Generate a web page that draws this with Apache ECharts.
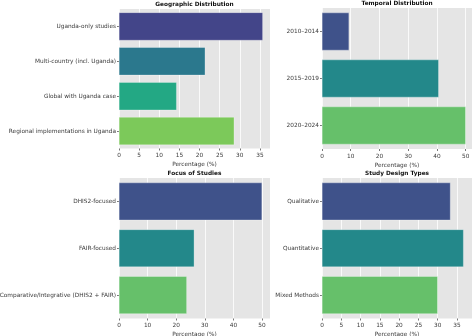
<!DOCTYPE html>
<html><head><meta charset="utf-8">
<script src="https://cdn.jsdelivr.net/npm/echarts@6/dist/echarts.min.js"></script>
<style>html,body{margin:0;padding:0;background:#fff}#c{width:474px;height:336px}</style>
</head><body><div id="c"></div>
<script>
const geoCats = ['Uganda-only studies','Multi-country (incl. Uganda)','Global with Uganda case','Regional implementations in Uganda'];
const geoVals = [35.7, 21.4, 14.3, 28.6];
const tempCats = ['2010–2014','2015–2019','2020–2024'];
const tempVals = [9.4, 40.6, 50.0];
const focusCats = ['DHIS2-focused','FAIR-focused','Comparative/Integrative (DHIS2 + FAIR)'];
const focusVals = [50.0, 26.3, 23.7];
const designCats = ['Qualitative','Quantitative','Mixed Methods'];
const designVals = [33.3, 36.7, 30.0];
const titles = ['Geographic Distribution','Temporal Distribution','Focus of Studies','Study Design Types'];
const axisName = 'Percentage (%)';

const pal4 = ['#434589','#2b788d','#23a884','#7cc95a'];
const pal3 = ['#3f528a','#23888a','#66c06a'];

const panels = [
  {cats: geoCats, vals: geoVals, colors: pal4, max: 37.5, interval: 5, grid:{left:119, top:9, width:151, height:139.5}},
  {cats: tempCats, vals: tempVals, colors: pal3, max: 52.2, interval: 10, grid:{left:322, top:8, width:150, height:141}},
  {cats: focusCats, vals: focusVals, colors: pal3, max: 52.8, interval: 10, grid:{left:119, top:178, width:151, height:140.5}},
  {cats: designCats, vals: designVals, colors: pal3, max: 38.9, interval: 5, grid:{left:322, top:178, width:150, height:140.5}}
];

const font = 'DejaVu Sans';
const fs = 5.8;
const txt = '#3a3a3a';
const grids = [], xAxes = [], yAxes = [], series = [], graphics = [];
panels.forEach((p, i) => {
  grids.push(Object.assign({containLabel:false, outerBoundsMode:'none', backgroundColor:'#e5e5e5', show:true, borderWidth:0}, p.grid));
  xAxes.push({
    type:'value', gridIndex:i, min:0, max:p.max, interval:p.interval,
    axisLine:{show:false},
    axisTick:{show:true, length:2, lineStyle:{color:'#555', width:0.8}},
    splitLine:{show:true, lineStyle:{color:'#fff', width:0.8}},
    axisLabel:{fontFamily:font, fontSize:fs, color:txt, margin:4, showMaxLabel:false,
      formatter: v => (Math.abs(v/p.interval - Math.round(v/p.interval)) < 1e-6 ? String(v) : '')},
    name:axisName, nameLocation:'middle', nameGap:13,
    nameTextStyle:{fontFamily:font, fontSize:fs, color:txt}
  });
  yAxes.push({
    type:'category', gridIndex:i, data:p.cats, inverse:true,
    axisLine:{show:false},
    axisTick:{show:true, length:2, alignWithLabel:true, lineStyle:{color:'#555', width:0.8}},
    splitLine:{show:false},
    axisLabel:{fontFamily:font, fontSize:fs, color:txt, margin:3}
  });
  series.push({
    type:'bar', xAxisIndex:i, yAxisIndex:i, barCategoryGap:'20%',
    data: p.vals.map((v, j) => ({value:v, itemStyle:{color:p.colors[j]}})),
    itemStyle:{borderColor:'#fff', borderWidth:0.3},
    silent:true
  });
  graphics.push({
    type:'text', x: p.grid.left + p.grid.width/2, y: p.grid.top - 8,
    style:{text:titles[i], font:'bold 5.8px "DejaVu Sans"', fill:'#111', textAlign:'center'}
  });
});

const chart = echarts.init(document.getElementById('c'), null, {renderer:'canvas'});
chart.setOption({
  animation:false,
  grid:grids, xAxis:xAxes, yAxis:yAxes, series:series,
  graphic: graphics
});
</script></body></html>
